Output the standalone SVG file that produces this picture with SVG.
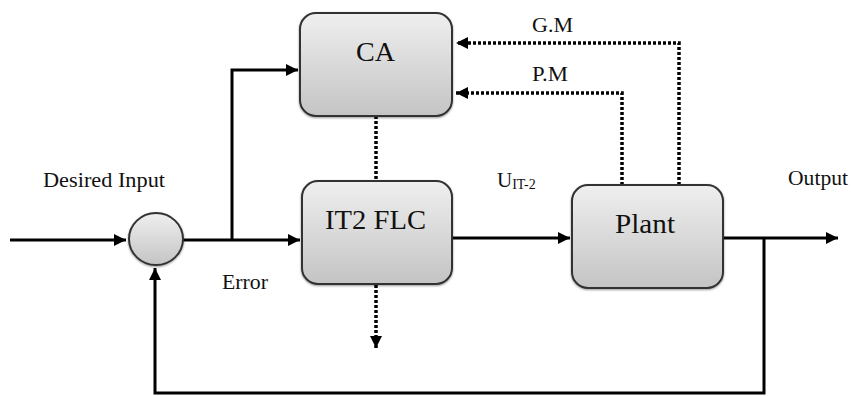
<svg xmlns="http://www.w3.org/2000/svg" width="851" height="396" viewBox="0 0 851 396">
<style>
.box{fill:url(#g);stroke:#333;stroke-width:2;filter:url(#sh)}
.ln{fill:none;stroke:#000;stroke-width:3}
.dl{fill:none;stroke:#000;stroke-width:3.5;stroke-dasharray:3 2}
.t{font-family:"Liberation Serif",serif;fill:#111}
</style>
<defs>
<linearGradient id="g" x1="0" y1="0" x2="0" y2="1"><stop offset="0" stop-color="#efefef"/><stop offset="1" stop-color="#c4c4c4"/></linearGradient>
<filter id="sh" x="-10%" y="-10%" width="120%" height="120%"><feDropShadow dx="0" dy="1" stdDeviation="1.2" flood-opacity="0.4"/></filter>
<marker id="a" markerWidth="12" markerHeight="12" refX="10" refY="5" orient="auto" markerUnits="userSpaceOnUse" viewBox="0 0 10 10"><path d="M0,0 L10,5 L0,10 z" fill="#000"/></marker>
</defs>
<g id="connectors">
<path class="ln" d="M10,240 H126" marker-end="url(#a)"/>
<path class="ln" d="M183,240 H300" marker-end="url(#a)"/>
<path class="ln" d="M232,240 V70 H298" marker-end="url(#a)"/>
<path class="ln" d="M452,238 H570" marker-end="url(#a)"/>
<path class="ln" d="M723,238 H838" marker-end="url(#a)"/>
<path class="ln" d="M764,238 V393 H155 V268" marker-end="url(#a)"/>
<path class="dl" d="M679,185 V43 H456" marker-end="url(#a)"/>
<path class="dl" d="M622,185 V93 H456" marker-end="url(#a)"/>
<path class="dl" d="M376,116 V181"/>
<path class="dl" d="M376,285 V348" marker-end="url(#a)"/>
</g>
<g id="sum"><ellipse class="box" cx="156" cy="239" rx="27" ry="26"/></g>
<g id="ca"><rect class="box" x="300" y="13" width="152" height="103" rx="16"/><text class="t" x="356" y="61" font-size="27" textLength="39" lengthAdjust="spacingAndGlyphs">CA</text></g>
<g id="flc"><rect class="box" x="302" y="181" width="150" height="103" rx="16"/><text class="t" x="325" y="229" font-size="28" textLength="101" lengthAdjust="spacingAndGlyphs">IT2 FLC</text></g>
<g id="plant"><rect class="box" x="572" y="185" width="151" height="103" rx="16"/><text class="t" x="615" y="233" font-size="28" textLength="60" lengthAdjust="spacingAndGlyphs">Plant</text></g>
<g id="labels">
<text class="t" x="43" y="187" font-size="21" textLength="122" lengthAdjust="spacingAndGlyphs">Desired Input</text>
<text class="t" x="222" y="289" font-size="21" textLength="46" lengthAdjust="spacingAndGlyphs">Error</text>
<text class="t" x="788" y="185" font-size="21" textLength="60" lengthAdjust="spacingAndGlyphs">Output</text>
<text class="t" x="532" y="32" font-size="21" textLength="41" lengthAdjust="spacingAndGlyphs">G.M</text>
<text class="t" x="532" y="81" font-size="21" textLength="36" lengthAdjust="spacingAndGlyphs">P.M</text>
<text class="t" x="497" y="187" font-size="21">U<tspan font-size="14" dy="2">IT-2</tspan></text>
</g>
</svg>
